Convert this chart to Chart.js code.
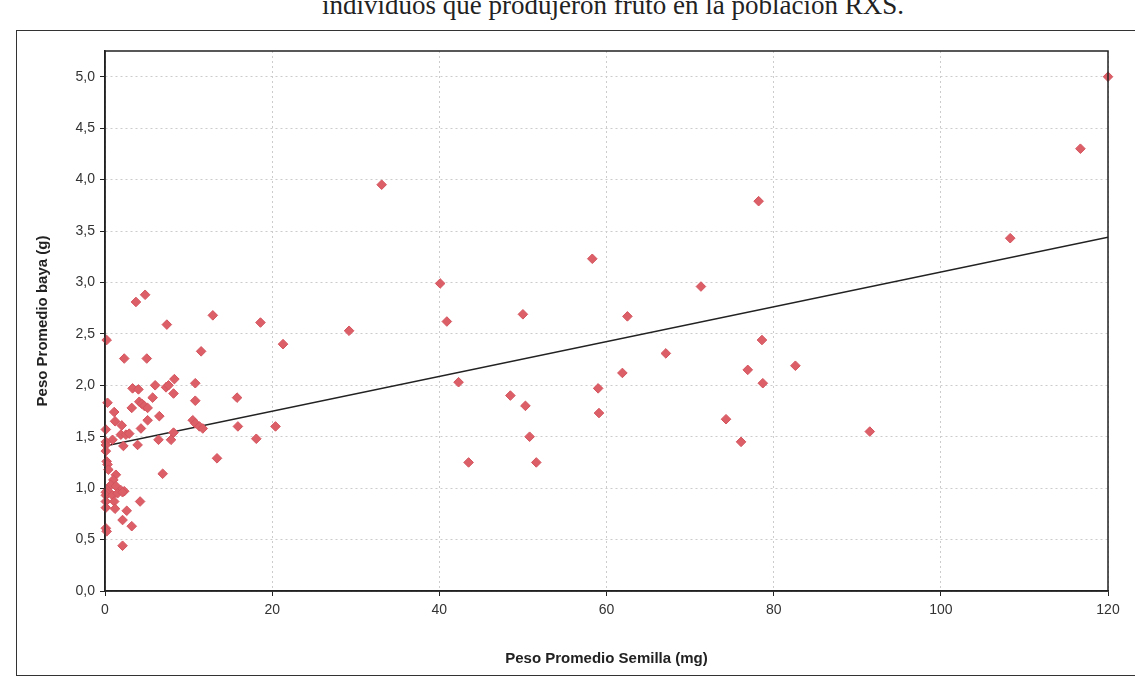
<!DOCTYPE html>
<html>
<head>
<meta charset="utf-8">
<script src="https://cdn.jsdelivr.net/npm/chart.js@4.4.1/dist/chart.umd.min.js"></script>
<style>
  body { margin: 0; background: #fff; overflow: hidden; }
  #wrap { position: relative; width: 1135px; height: 690px; }
  #caption {
    position: absolute; left: 322px; top: -10px;
    font-family: "Liberation Serif", serif; font-size: 27px; color: #222;
    white-space: nowrap;
  }
  #frame {
    position: absolute; left: 16px; top: 30px; width: 1200px; height: 646px;
    border: 1.5px solid #333; box-sizing: border-box;
  }
  canvas { position: absolute; left: 0; top: 0; }
</style>
</head>
<body>
<div id="wrap">
  <div id="caption">individuos que produjeron fruto en la población RXS.</div>
  <div id="frame"></div>
  <canvas id="chart" width="1135" height="690"></canvas>
</div>
<script>
// Peso promedio semilla (mg)
const seedWeight = [
  120.0, 116.7, 108.3, 78.2, 71.3, 58.3, 62.5, 67.1, 78.6, 76.9,
  82.6, 78.7, 74.3, 76.1, 91.5, 61.9, 59.0, 59.1, 33.1, 40.1,
  40.9, 50.0, 29.2, 21.3, 42.3, 48.5, 50.3, 50.8, 43.5, 51.6,
  4.8, 3.7, 7.4, 12.9, 18.6, 0.2, 2.3, 5.0, 11.5, 8.3,
  10.8, 3.3, 4.0, 6.0, 7.3, 7.6, 8.2, 5.7, 0.3, 10.8,
  15.8, 4.1, 4.4, 4.7, 5.1, 3.2, 1.1, 6.5, 5.1, 1.2,
  2.0, 4.3, 0.1, 10.5, 10.8, 11.3, 11.7, 15.9, 20.4, 1.9,
  2.5, 2.9, 0.9, 8.2, 7.9, 6.4, 18.1, 0.1, 0.1, 0.1,
  2.2, 3.9, 13.4, 0.2, 0.3, 0.4, 6.9, 1.3, 1.0, 0.7,
  1.3, 1.9, 0.3, 2.3, 0.1, 0.1, 0.9, 1.5, 2.1, 0.1,
  1.1, 4.2, 0.1, 1.2, 2.6, 2.1, 3.2, 0.1, 0.2, 2.1
];
// Peso promedio baya (g)
const berryWeight = [
  5.00, 4.30, 3.43, 3.79, 2.96, 3.23, 2.67, 2.31, 2.44, 2.15,
  2.19, 2.02, 1.67, 1.45, 1.55, 2.12, 1.97, 1.73, 3.95, 2.99,
  2.62, 2.69, 2.53, 2.40, 2.03, 1.90, 1.80, 1.50, 1.25, 1.25,
  2.88, 2.81, 2.59, 2.68, 2.61, 2.44, 2.26, 2.26, 2.33, 2.06,
  2.02, 1.97, 1.96, 2.00, 1.98, 2.00, 1.92, 1.88, 1.83, 1.85,
  1.88, 1.84, 1.82, 1.80, 1.78, 1.78, 1.74, 1.70, 1.66, 1.65,
  1.61, 1.58, 1.57, 1.66, 1.63, 1.60, 1.58, 1.60, 1.60, 1.52,
  1.52, 1.53, 1.47, 1.54, 1.47, 1.47, 1.48, 1.45, 1.42, 1.36,
  1.41, 1.42, 1.29, 1.26, 1.23, 1.18, 1.14, 1.13, 1.08, 1.03,
  1.02, 0.98, 0.98, 0.97, 0.96, 0.93, 0.93, 0.95, 0.96, 0.87,
  0.87, 0.87, 0.81, 0.80, 0.78, 0.69, 0.63, 0.61, 0.58, 0.44
];
// Linea de tendencia (extremos)
const trendX = [0, 120];
const trendY = [1.41, 3.44];

const xTicks = [0, 20, 40, 60, 80, 100, 120];
const yTicks = [0, 0.5, 1, 1.5, 2, 2.5, 3, 3.5, 4, 4.5, 5];

const points = seedWeight.map((x, i) => ({ x: x, y: berryWeight[i] }));
const trend = trendX.map((x, i) => ({ x: x, y: trendY[i] }));

const fontFamily = "'Liberation Sans', Arial, sans-serif";

// frame around the plot area (top and right sides too)
const plotBorder = {
  id: "plotBorder",
  afterDatasetsDraw(chart) {
    const a = chart.chartArea;
    const ctx = chart.ctx;
    ctx.save();
    ctx.strokeStyle = "#222";
    ctx.lineWidth = 1.5;
    ctx.strokeRect(a.left, a.top, a.right - a.left, a.bottom - a.top);
    ctx.restore();
  }
};

new Chart(document.getElementById("chart"), {
  type: "scatter",
  data: {
    datasets: [
      {
        data: points,
        clip: false,
        pointStyle: "rectRot",
        pointRadius: 4.8,
        backgroundColor: "#dc5f68",
        borderColor: "#d4545e",
        borderWidth: 1
      },
      {
        data: trend,
        showLine: true,
        pointRadius: 0,
        borderColor: "#222",
        borderWidth: 1.5
      }
    ]
  },
  options: {
    responsive: false,
    animation: false,
    layout: { padding: { left: 30, top: 51, right: 27, bottom: 18 } },
    plugins: { legend: { display: false }, tooltip: { enabled: false } },
    scales: {
      x: {
        type: "linear",
        min: 0,
        max: 120,
        afterBuildTicks: s => { s.ticks = xTicks.map(v => ({ value: v })); },
        afterFit: s => { s.height = 81; },
        ticks: {
          color: "#333",
          font: { family: fontFamily, size: 14 },
          padding: 6
        },
        grid: { color: "#cccccc", tickColor: "#222", tickLength: 5, lineWidth: 1 },
        border: { color: "#222", width: 1.5, dash: [2, 3] },
        title: {
          display: true,
          text: "Peso Promedio Semilla (mg)",
          color: "#222",
          font: { family: fontFamily, size: 15, weight: "bold" },
          padding: { top: 10, bottom: 4 }
        }
      },
      y: {
        type: "linear",
        min: 0,
        max: 5.25,
        afterBuildTicks: s => { s.ticks = yTicks.map(v => ({ value: v })); },
        afterFit: s => { s.width = 75; },
        ticks: {
          color: "#333",
          font: { family: fontFamily, size: 14 },
          padding: 5,
          callback: v => v.toFixed(1).replace(".", ",")
        },
        grid: { color: "#cccccc", tickColor: "#222", tickLength: 5, lineWidth: 1 },
        border: { color: "#222", width: 1.5, dash: [2, 3] },
        title: {
          display: true,
          text: "Peso Promedio baya (g)",
          color: "#222",
          font: { family: fontFamily, size: 15, weight: "bold" },
          padding: { top: 4, bottom: 10 }
        }
      }
    }
  },
  plugins: [plotBorder]
});
</script>
</body>
</html>
